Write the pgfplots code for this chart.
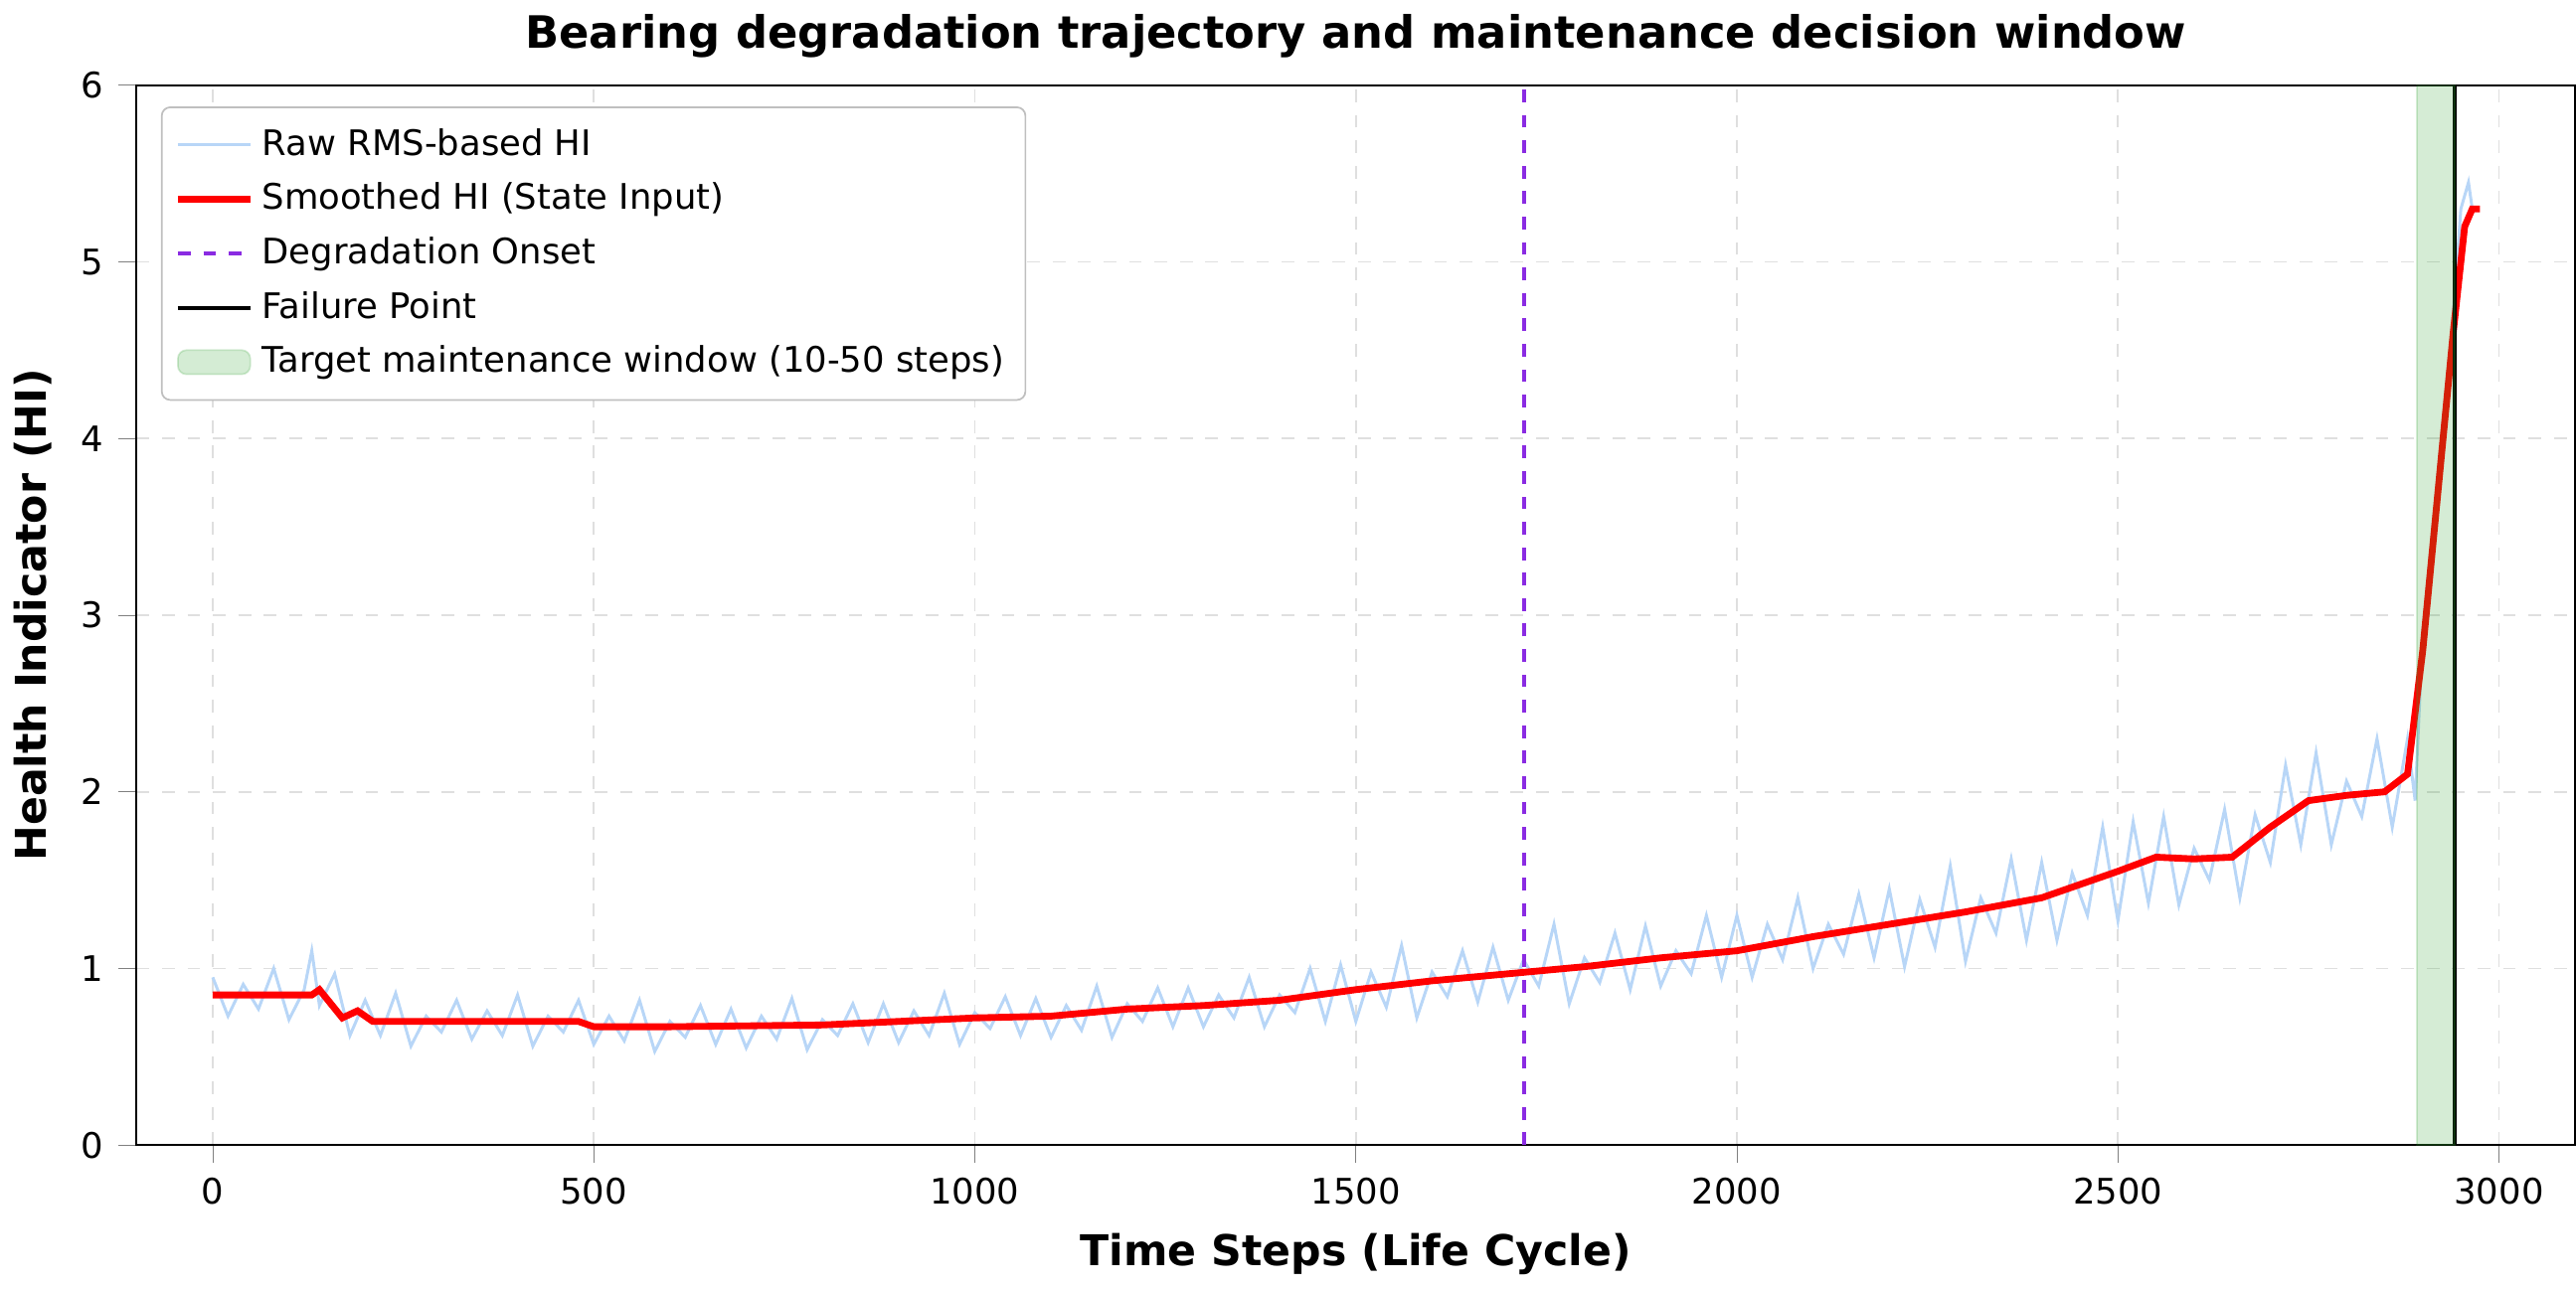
\documentclass[border=0pt]{standalone}
\usepackage{pgfplots}
\pgfplotsset{compat=1.18}
\usepackage{fontspec}
\setmainfont{DejaVu Sans}
\definecolor{rawc}{HTML}{B8D6F7}
\definecolor{onset}{HTML}{8A2BE2}
\definecolor{win}{HTML}{2CA02C}
\begin{document}
\begin{tikzpicture}
\begin{axis}[
  width=575pt, height=250pt, scale only axis,
  xmin=-100, xmax=3100, ymin=0, ymax=6,
  xtick={0,500,...,3000}, ytick={0,1,...,6},
  /pgf/number format/assume math mode=true,
  /pgf/number format/set thousands separator={},
  tick label style={font=\fontsize{8.3}{10}\selectfont},
  grid=major, grid style={dashed, gray!25},
  xlabel={\bfseries Time Steps (Life Cycle)},
  ylabel={\bfseries Health Indicator (HI)},
  label style={font=\fontsize{10}{12}\selectfont},
  title={\bfseries Bearing degradation trajectory and maintenance decision window},
  title style={font=\fontsize{10.5}{12}\selectfont, yshift=-3pt},
  legend style={at={(0.01,0.98)}, anchor=north west, font=\fontsize{8.3}{11}\selectfont,
    draw=gray!50, rounded corners=2pt, row sep=1pt, inner sep=3pt},
  legend cell align=left,
  tick align=outside, tick pos=left,
]
\addplot[rawc, line width=0.7pt] coordinates {
(0,0.95)(20,0.73)(40,0.91)(60,0.77)(80,1.00)(100,0.71)(120,0.88)(130,1.1)(140,0.79)(160,0.97)(180,0.62)(200,0.82)(220,0.62)(240,0.86)(260,0.56)(280,0.73)(300,0.64)(320,0.82)(340,0.60)(360,0.76)(380,0.62)(400,0.85)(420,0.56)(440,0.73)(460,0.64)(480,0.82)(500,0.57)(520,0.73)(540,0.59)(560,0.82)(580,0.53)(600,0.70)(620,0.61)(640,0.79)(660,0.57)(680,0.77)(700,0.55)(720,0.73)(740,0.60)(760,0.83)(780,0.54)(800,0.71)(820,0.62)(840,0.80)(860,0.58)(880,0.80)(900,0.58)(920,0.76)(940,0.62)(960,0.86)(980,0.57)(1000,0.75)(1020,0.66)(1040,0.84)(1060,0.62)(1080,0.83)(1100,0.61)(1120,0.79)(1140,0.65)(1160,0.90)(1180,0.61)(1200,0.80)(1220,0.70)(1240,0.89)(1260,0.67)(1280,0.89)(1300,0.67)(1320,0.85)(1340,0.72)(1360,0.95)(1380,0.67)(1400,0.85)(1420,0.75)(1440,1.0)(1460,0.70)(1480,1.02)(1500,0.70)(1520,0.98)(1540,0.78)(1560,1.13)(1580,0.72)(1600,0.98)(1620,0.84)(1640,1.10)(1660,0.81)(1680,1.12)(1700,0.82)(1720,1.05)(1740,0.9)(1760,1.25)(1780,0.8)(1800,1.06)(1820,0.92)(1840,1.2)(1860,0.88)(1880,1.24)(1900,0.9)(1920,1.1)(1940,0.97)(1960,1.3)(1980,0.95)(2000,1.3)(2020,0.95)(2040,1.25)(2060,1.05)(2080,1.4)(2100,1.0)(2120,1.25)(2140,1.08)(2160,1.42)(2180,1.06)(2200,1.45)(2220,1.01)(2240,1.39)(2260,1.12)(2280,1.58)(2300,1.04)(2320,1.40)(2340,1.20)(2360,1.62)(2380,1.16)(2400,1.6)(2420,1.16)(2440,1.54)(2460,1.30)(2480,1.8)(2500,1.27)(2520,1.83)(2540,1.37)(2560,1.86)(2580,1.36)(2600,1.68)(2620,1.50)(2640,1.90)(2660,1.40)(2680,1.87)(2700,1.6)(2720,2.15)(2740,1.70)(2760,2.22)(2780,1.70)(2800,2.06)(2820,1.86)(2840,2.30)(2860,1.80)(2880,2.30)(2890,1.95)(2900,2.9)(2920,3.8)(2940,4.7)(2950,5.3)(2960,5.45)(2965,5.3)};
\addlegendentry{Raw RMS-based HI}
\addplot[red, line width=1.6pt] coordinates {
(0,0.85)(130,0.85)(140,0.88)(170,0.72)(190,0.76)(210,0.70)(300,0.70)(480,0.70)(500,0.67)(600,0.67)(800,0.68)(900,0.70)(1000,0.72)(1100,0.73)(1200,0.77)(1300,0.79)(1400,0.82)(1500,0.88)(1600,0.93)(1700,0.97)(1800,1.01)(1900,1.06)(2000,1.10)(2100,1.18)(2200,1.25)(2300,1.32)(2400,1.40)(2500,1.55)(2550,1.63)(2600,1.62)(2650,1.63)(2700,1.80)(2750,1.95)(2800,1.98)(2850,2.0)(2880,2.1)(2900,2.8)(2920,3.7)(2940,4.6)(2955,5.2)(2965,5.3)(2975,5.3)};
\addlegendentry{Smoothed HI (State Input)}
\addplot[onset, dashed, line width=0.9pt] coordinates {(1721,0)(1721,6)};
\addlegendentry{Degradation Onset}
\addplot[black, line width=0.9pt] coordinates {(2942,0)(2942,6)};
\addlegendentry{Failure Point}
\addplot[fill=win, fill opacity=0.2, draw=win, draw opacity=0.2, area legend] coordinates {(2892,0)(2892,6)(2942,6)(2942,0)} -- cycle;
\addlegendentry{Target maintenance window (10-50 steps)}
\end{axis}
\end{tikzpicture}
\end{document}
